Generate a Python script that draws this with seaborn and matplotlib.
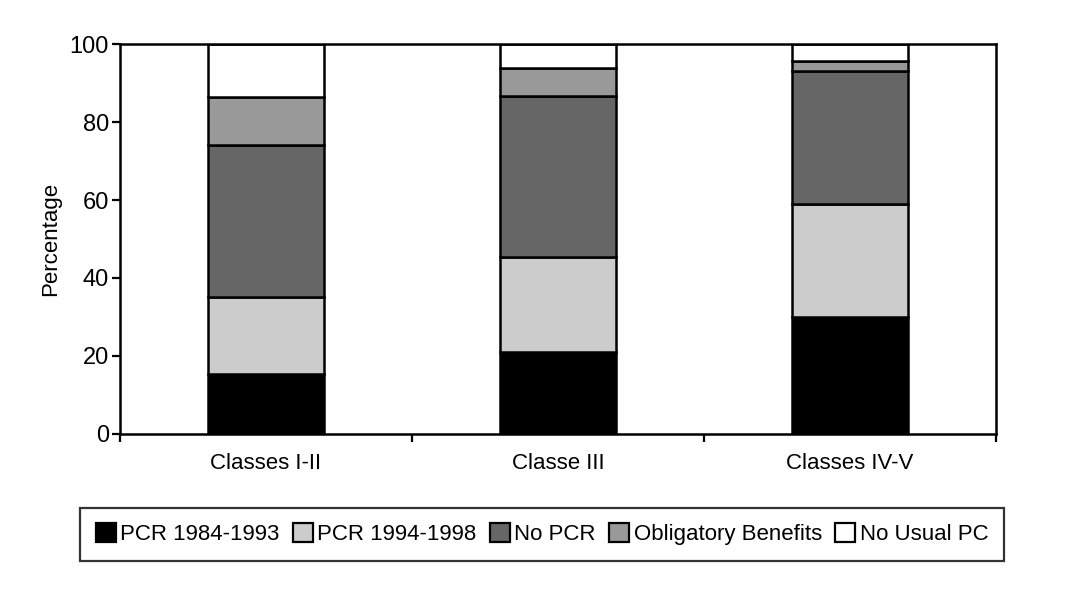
import matplotlib
matplotlib.use('Agg')
import matplotlib.pyplot as plt
import seaborn as sns
from matplotlib.patches import Patch

categories = ['Classes I-II', 'Classe III', 'Classes IV-V']
series_names = ['PCR 1984-1993', 'PCR 1994-1998', 'No PCR', 'Obligatory Benefits', 'No Usual PC']
pcr_1984_1993 = [15.4, 21.0, 30.0]
pcr_1994_1998 = [19.7, 24.4, 29.0]
no_pcr = [39.0, 41.3, 34.1]
obligatory = [12.3, 7.1, 2.5]
no_usual_pc = [13.6, 6.2, 4.4]
colors = ['#000000', '#cccccc', '#666666', '#999999', '#ffffff']

sns.set_theme(style='white')
plt.rcParams['font.family'] = ['Liberation Sans', 'DejaVu Sans']
plt.rcParams['text.color'] = 'black'

fig = plt.figure(figsize=(10.84, 5.99), dpi=100)
ax = fig.add_axes([0.1107, 0.2755, 0.8081, 0.651])

series = [pcr_1984_1993, pcr_1994_1998, no_pcr, obligatory, no_usual_pc]
bottom = [0, 0, 0]
for name, vals, col in zip(series_names, series, colors):
    sns.barplot(x=categories, y=vals, bottom=bottom, color=col, width=0.4,
                edgecolor='black', linewidth=1.8, ax=ax, saturation=1)
    bottom = [b + v for b, v in zip(bottom, vals)]

ax.set_xlim(-0.5, 2.5)
ax.set_ylim(0, 100)
ax.set_yticks(range(0, 101, 20))
ax.set_ylabel('Percentage', fontsize=16, color='black', labelpad=6)
ax.set_xlabel('')
for s in ax.spines.values():
    s.set_color('black')
    s.set_linewidth(1.8)
    s.set_visible(True)
ax.tick_params(axis='y', which='major', direction='out', length=6, width=1.6,
               color='black', labelsize=17, labelcolor='black', left=True, pad=2)
ax.tick_params(axis='x', which='major', length=0, labelsize=16, labelcolor='black', pad=14)
ax.set_xticks([-0.5, 0.5, 1.5, 2.5], minor=True)
ax.tick_params(axis='x', which='minor', direction='out', length=6, width=1.6,
               color='black', bottom=True)

handles = [Patch(facecolor=c, edgecolor='black', linewidth=1.6) for c in colors]
leg = fig.legend(handles, series_names, loc='center', bbox_to_anchor=(0.5, 0.1085),
                 ncol=5, frameon=True, fancybox=False, fontsize=16,
                 handlelength=0.9, handleheight=0.9, handletextpad=0.2,
                 columnspacing=0.6, borderpad=0.7, borderaxespad=0)
for t in leg.get_texts():
    t.set_color('black')
leg.get_frame().set_edgecolor('black')
leg.get_frame().set_linewidth(1.6)
leg.get_frame().set_boxstyle('square', pad=0)

fig.savefig('out.png', dpi=100, facecolor='white')
